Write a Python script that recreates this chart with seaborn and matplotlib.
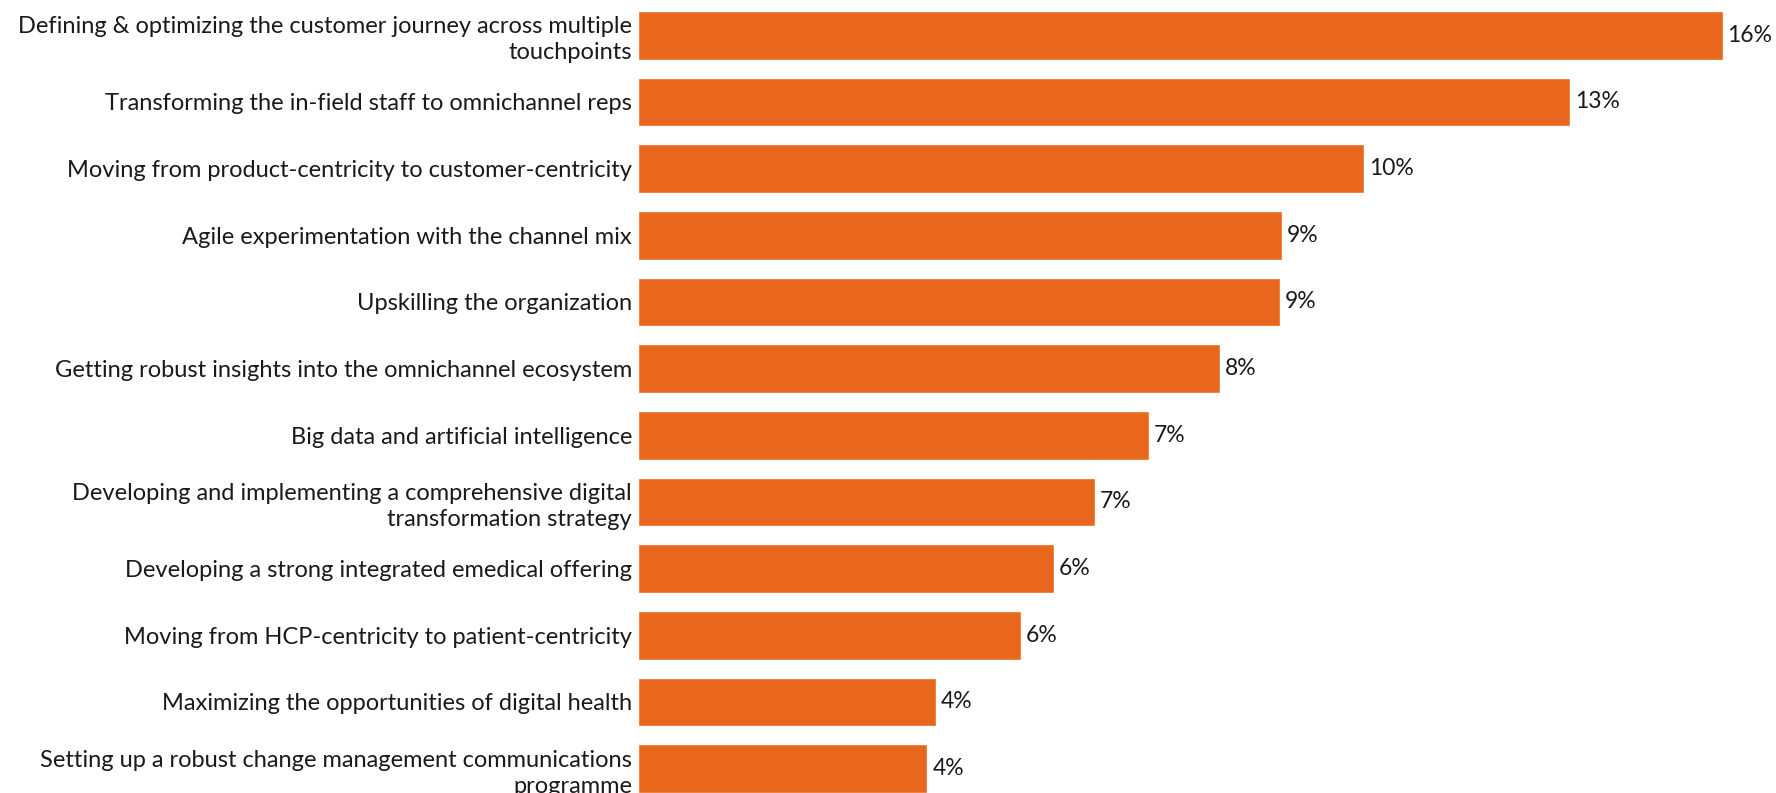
import matplotlib
matplotlib.use("Agg")
import matplotlib.pyplot as plt
import seaborn as sns
import pandas as pd

categories = [
    "Defining & optimizing the customer journey across multiple\ntouchpoints",
    "Transforming the in-field staff to omnichannel reps",
    "Moving from product-centricity to customer-centricity",
    "Agile experimentation with the channel mix",
    "Upskilling the organization",
    "Getting robust insights into the omnichannel ecosystem",
    "Big data and artificial intelligence",
    "Developing and implementing a comprehensive digital\ntransformation strategy",
    "Developing a strong integrated emedical offering",
    "Moving from HCP-centricity to patient-centricity",
    "Maximizing the opportunities of digital health",
    "Setting up a robust change management communications\nprogramme",
]
shares = [15.65, 13.45, 10.48, 9.30, 9.26, 8.40, 7.37, 6.60, 6.00, 5.53, 4.30, 4.18]

df = pd.DataFrame({"category": categories, "share": shares})

sns.set_theme(style="white")
plt.rcParams["font.family"] = ["Lato", "DejaVu Sans"]

BAR_COLOR = "#E8671D"
TEXT_COLOR = "#1A1A1A"

fig = plt.figure(figsize=(17.76, 7.93), dpi=100)
ax = fig.add_axes([0.359, 0.0, 0.641, 1.0])

sns.barplot(data=df, x="share", y="category", orient="h", color=BAR_COLOR,
            width=0.73, saturation=1, ax=ax)

ax.set_xlim(0, 16.42)
ax.set_ylim(len(categories) - 1 + 0.365, -0.53)

for i, v in enumerate(shares):
    ax.text(v + 0.07, i, f"{round(v):.0f}%", va="center", ha="left",
            fontsize=16.5, color=TEXT_COLOR)

ax.set_xlabel("")
ax.set_ylabel("")
ax.set_xticks([])
ax.tick_params(axis="y", length=0, pad=4, labelsize=17, labelcolor=TEXT_COLOR)
for lbl in ax.get_yticklabels():
    lbl.set_horizontalalignment("right")
    lbl.set_multialignment("right")
    lbl.set_linespacing(1.3)
sns.despine(ax=ax, left=True, bottom=True)

fig.savefig("out.png", dpi=100)
